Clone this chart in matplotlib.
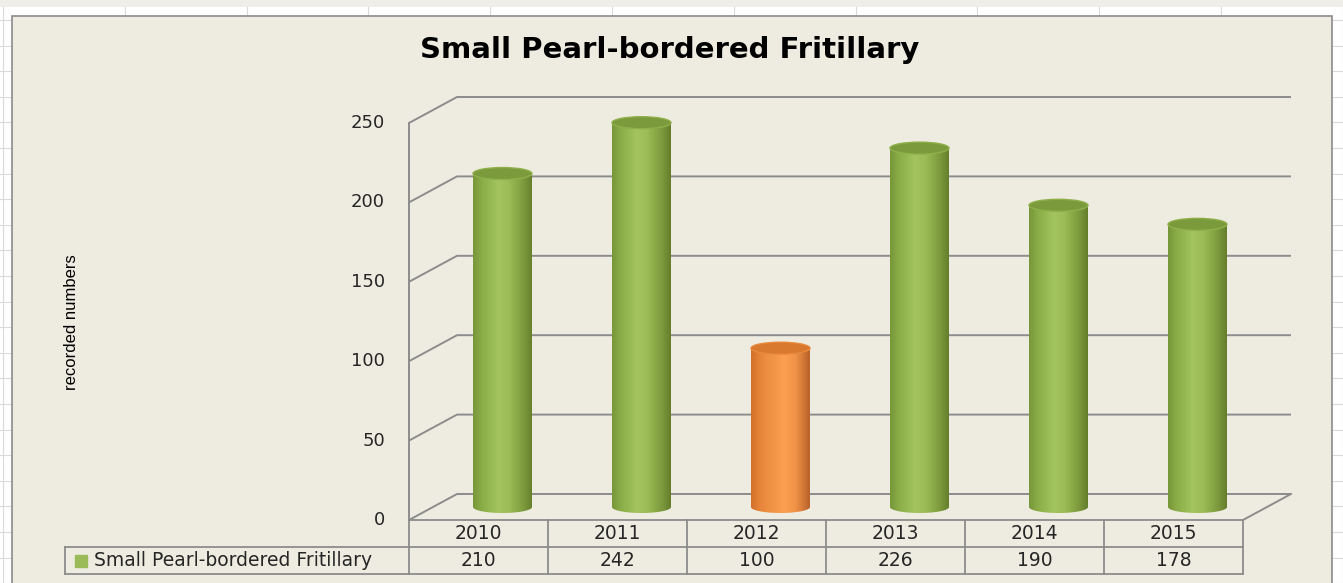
import numpy as np
import matplotlib
matplotlib.use('Agg')
import matplotlib.pyplot as plt
from matplotlib.patches import Ellipse, Rectangle, PathPatch
from matplotlib.path import Path
from matplotlib.colors import LinearSegmentedColormap

# ---------------- data ----------------
years = ['2010', '2011', '2012', '2013', '2014', '2015']
values = [210, 242, 100, 226, 190, 178]
series_name = 'Small Pearl-bordered Fritillary'
chart_title = 'Small Pearl-bordered Fritillary'
y_label = 'recorded numbers'
y_ticks = [0, 50, 100, 150, 200, 250]
highlight_year = '2012'

# ---------------- style ----------------
W, H = 1343, 583
BG = '#EEECE1'
GRID = '#8C8C8C'
TXT = '#262626'
green_cmap = LinearSegmentedColormap.from_list('g', [
    (0.0, '#789639'), (0.15, '#8AAD48'), (0.42, '#A3C45E'), (0.6, '#9BBC56'),
    (0.85, '#7C9A3C'), (1.0, '#647D2B')])
orange_cmap = LinearSegmentedColormap.from_list('o', [
    (0.0, '#D2702A'), (0.18, '#E9883C'), (0.55, '#FB9F50'), (0.75, '#F29448'),
    (1.0, '#B8622A')])
green_top, green_rim = '#7B9A3B', '#8FAF4B'
orange_top, orange_rim = '#D9792F', '#E8893D'

fig = plt.figure(figsize=(W / 100, H / 100), dpi=100)
fig.patch.set_facecolor('white')


def fx(px):
    return px / W


def fy(py):
    return 1 - py / H


# spreadsheet background decoration
fig.add_artist(Rectangle((0, fy(7)), 1, 7 / H, transform=fig.transFigure,
                         facecolor='#EFEEE8', edgecolor='none', zorder=0))
for k in range(12):
    xx = 3 + 121.8 * k
    fig.add_artist(plt.Line2D([fx(xx), fx(xx)], [0, fy(7)], transform=fig.transFigure,
                              color='#DADADA', lw=0.8, zorder=0.5))
for k in range(24):
    yy = 20 + 25.6 * k
    fig.add_artist(plt.Line2D([0, 1], [fy(yy), fy(yy)], transform=fig.transFigure,
                              color='#DADADA', lw=0.8, zorder=0.5))

# chart area
fig.add_artist(Rectangle((fx(12), fy(590)), (1332 - 12) / W, (590 - 16) / H,
                         transform=fig.transFigure, facecolor=BG,
                         edgecolor='#8A8A8A', lw=1.2, zorder=1))

# ---------------- axes ----------------
cat_px = 139.0
val_px = 1.588
ax = fig.add_axes([fx(409), fy(520), (1291 - 409) / W, (520 - 97) / H])
ax.set_zorder(2)
ax.patch.set_visible(False)
ax.axis('off')
xmin, xmax = -0.5, -0.5 + (1291 - 409) / cat_px
ymin, ymax = 0, (520 - 97) / val_px
ddx = 48 / cat_px
ddy = 26 / val_px
n = len(years)
x_right = n - 0.5

# walls / gridlines
for v in y_ticks:
    ax.plot([-0.5, -0.5 + ddx, x_right + ddx], [v, v + ddy, v + ddy],
            color=GRID, lw=1.4, solid_capstyle='butt', clip_on=False, zorder=1)
ax.plot([x_right, x_right + ddx], [0, ddy], color=GRID, lw=1.4, clip_on=False, zorder=1)
ax.plot([-0.5, -0.5], [0, y_ticks[-1]], color=GRID, lw=1.4, clip_on=False, zorder=1)

# tick labels
for v in y_ticks:
    ax.text(-0.5 - 24 / cat_px, v, str(v), ha='right', va='center',
            fontsize=13, color=TXT, family='DejaVu Sans')

# cylinders
r = 29.5 / cat_px
eh = 6.0 / val_px
base = ddy / 2
grad = np.linspace(0, 1, 256).reshape(1, -1)
for i, (yr, v) in enumerate(zip(years, values)):
    cx = i + ddx / 2
    top = base + v
    cmap = orange_cmap if yr == highlight_year else green_cmap
    tc, rc = (orange_top, orange_rim) if yr == highlight_year else (green_top, green_rim)
    t = np.linspace(np.pi, 2 * np.pi, 60)
    verts = [(cx - r, top), (cx - r, base)]
    verts += list(zip(cx + r * np.cos(t), base + eh * np.sin(t)))
    verts += [(cx + r, top), (cx - r, top)]
    codes = [Path.MOVETO] + [Path.LINETO] * (len(verts) - 2) + [Path.CLOSEPOLY]
    body = PathPatch(Path(verts, codes), facecolor='none', edgecolor='none',
                     transform=ax.transData)
    ax.add_patch(body)
    im = ax.imshow(grad, cmap=cmap, extent=(cx - r, cx + r, base - eh, top),
                   aspect='auto', interpolation='bilinear', zorder=3)
    im.set_clip_path(body)
    ax.add_patch(Ellipse((cx, top), 2 * r, 2 * eh, facecolor=tc, edgecolor=rc,
                         lw=1.0, zorder=4))

ax.set_xlim(xmin, xmax)
ax.set_ylim(ymin, ymax)

# ---------------- data table ----------------
y0 = 0
y1 = -27 / val_px
y2 = -54 / val_px
xL = -0.5 - (409 - 65) / cat_px
TL = dict(color=GRID, lw=1.3, clip_on=False, zorder=1)
ax.plot([-0.5, x_right], [y0, y0], **TL)
ax.plot([xL, x_right], [y1, y1], **TL)
ax.plot([xL, x_right], [y2, y2], **TL)
ax.plot([xL, xL], [y1, y2], **TL)
for k in range(n + 1):
    ax.plot([-0.5 + k, -0.5 + k], [y0, y2], **TL)
for i, (yr, v) in enumerate(zip(years, values)):
    ax.text(i, (y0 + y1) / 2, yr, ha='center', va='center', fontsize=13.5,
            color=TXT, clip_on=False)
    ax.text(i, (y1 + y2) / 2, str(v), ha='center', va='center', fontsize=13.5,
            color=TXT, clip_on=False)
ax.plot([-0.5 - (409 - 81) / cat_px], [(y1 + y2) / 2], marker='s', markersize=8,
        color='#9BBB59', clip_on=False, linestyle='none')
ax.text(-0.5 - (409 - 94) / cat_px, (y1 + y2) / 2, series_name, ha='left',
        va='center', fontsize=13.5, color=TXT, clip_on=False)

# ---------------- titles ----------------
fig.text(fx(670), fy(50), chart_title, ha='center', va='center', fontsize=21,
         fontweight='bold', family='DejaVu Sans', color='#000000', zorder=5)
fig.text(fx(72), fy(322), y_label, ha='center', va='center', rotation=90,
         fontsize=12, family=['Liberation Sans', 'DejaVu Sans'],
         color='#000000', zorder=5)

fig.savefig('out.png', dpi=100, facecolor=fig.get_facecolor())
